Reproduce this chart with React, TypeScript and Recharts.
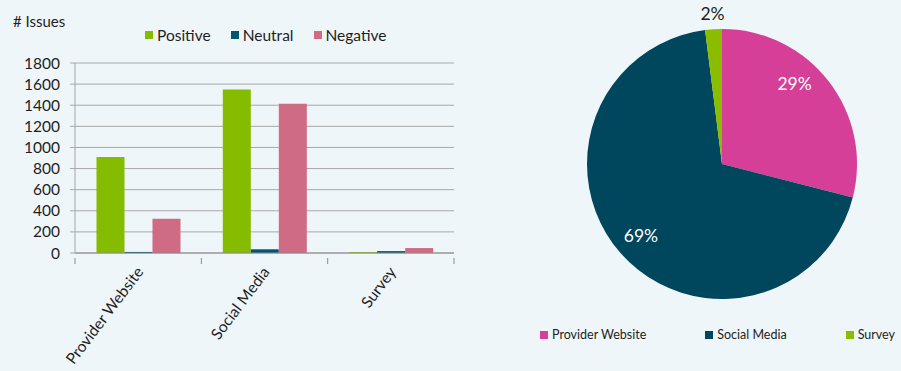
import { BarChart, Bar, XAxis, YAxis, CartesianGrid, PieChart, Pie, Cell } from 'recharts';

const categories = ['Provider Website', 'Social Media', 'Survey'];
const positiveValues = [910, 1550, 8];
const neutralValues = [10, 35, 18];
const negativeValues = [325, 1415, 47];
const yTicks = [0, 200, 400, 600, 800, 1000, 1200, 1400, 1600, 1800];

const sourceNames = ['Provider Website', 'Social Media', 'Survey'];
const sourceShares = [29, 69, 2];

const BG = '#eef6f9';
const FONT = 'Lato, "Open Sans", sans-serif';
const TEXT = '#1e1e1e';
const GREEN = '#86bc00';
const TEAL = '#00566f';
const ROSE = '#d06b84';
const PIE_COLORS = ['#d63f97', '#00465c', '#8abd00'];

const barData = categories.map((name, i) => ({
  name,
  positive: positiveValues[i],
  neutral: neutralValues[i],
  negative: negativeValues[i],
}));

const pieData = sourceNames.map((name, i) => ({ name, value: sourceShares[i] }));

const BAR_W = 470;
const PLOT_LEFT = 75;
const PLOT_RIGHT = 16;
const BAND = (BAR_W - PLOT_LEFT - PLOT_RIGHT) / categories.length;

const CategoryTick = (props: any) => {
  const { x, y, payload, index } = props;
  const left = x - BAND / 2;
  return (
    <g>
      <line x1={left} y1={y - 3} x2={left} y2={y + 3} stroke="#8c8c8c" />
      {index === categories.length - 1 && (
        <line x1={left + BAND} y1={y - 3} x2={left + BAND} y2={y + 3} stroke="#8c8c8c" />
      )}
      <text
        x={x + 6}
        y={y + 11}
        textAnchor="end"
        transform={`rotate(-53, ${x + 6}, ${y + 11})`}
        fontSize={15.5}
        fontFamily={FONT}
        fill={TEXT}
      >
        {payload.value}
      </text>
    </g>
  );
};

// Excel "best fit" puts the big labels a bit off the mid angle, so nudge them
const renderPieLabel = ({ cx, cy, midAngle, outerRadius, percent, index }: any) => {
  const RADIAN = Math.PI / 180;
  const small = percent < 0.05;
  const r = small ? outerRadius + 16 : outerRadius * 0.8;
  const angle = index === 0 ? midAngle + 10 : midAngle;
  const x = cx + r * Math.cos(-angle * RADIAN);
  const y = cy + r * Math.sin(-angle * RADIAN);
  return (
    <text
      x={x}
      y={y}
      fill={small ? TEXT : '#ffffff'}
      textAnchor="middle"
      dominantBaseline="central"
      fontSize={17.5}
      fontFamily={FONT}
    >
      {`${(percent * 100).toFixed(0)}%`}
    </text>
  );
};

const Swatch = ({ color }: { color: string }) => (
  <span style={{ display: 'inline-block', width: 8, height: 8, background: color, marginRight: 4 }} />
);

export default function App() {
  return (
    <div
      style={{
        position: 'fixed',
        left: 0,
        top: 0,
        width: 901,
        height: 371,
        background: BG,
        fontFamily: FONT,
        color: TEXT,
      }}
    >
      <div style={{ position: 'absolute', left: 13, top: 12, fontSize: 15 }}># Issues</div>
      <div style={{ position: 'absolute', left: 145, top: 26, fontSize: 15.5, display: 'flex', gap: 20 }}>
        <span style={{ display: 'flex', alignItems: 'center' }}>
          <Swatch color={GREEN} />
          Positive
        </span>
        <span style={{ display: 'flex', alignItems: 'center' }}>
          <Swatch color={TEAL} />
          Neutral
        </span>
        <span style={{ display: 'flex', alignItems: 'center' }}>
          <Swatch color={ROSE} />
          Negative
        </span>
      </div>

      <div style={{ position: 'absolute', left: 0, top: 0 }}>
        <BarChart
          width={BAR_W}
          height={371}
          data={barData}
          margin={{ top: 63, right: PLOT_RIGHT, bottom: 0, left: 0 }}
          barCategoryGap="17%"
          barGap={0}
        >
          <CartesianGrid vertical={false} stroke="#a8a8a8" />
          <XAxis
            dataKey="name"
            height={118}
            axisLine={{ stroke: '#8c8c8c' }}
            tickLine={false}
            tick={<CategoryTick />}
            interval={0}
          />
          <YAxis
            width={PLOT_LEFT}
            domain={[0, 1800]}
            ticks={yTicks}
            interval={0}
            axisLine={{ stroke: '#a8a8a8' }}
            tickLine={{ stroke: '#a8a8a8' }}
            tickSize={5}
            tickMargin={10}
            tick={{ fontSize: 15.5, fill: TEXT, fontFamily: FONT }}
          />
          <Bar dataKey="positive" fill={GREEN} isAnimationActive={false} />
          <Bar dataKey="neutral" fill={TEAL} isAnimationActive={false} />
          <Bar dataKey="negative" fill={ROSE} isAnimationActive={false} />
        </BarChart>
      </div>

      <div style={{ position: 'absolute', left: 470, top: 0 }}>
        <PieChart width={431} height={371} margin={{ top: 0, right: 0, bottom: 0, left: 0 }}>
          <Pie
            data={pieData}
            dataKey="value"
            cx={252}
            cy={164}
            outerRadius={135}
            startAngle={90}
            endAngle={-270}
            stroke="none"
            labelLine={false}
            label={renderPieLabel}
            isAnimationActive={false}
          >
            {pieData.map((entry, idx) => (
              <Cell key={entry.name} fill={PIE_COLORS[idx]} />
            ))}
          </Pie>
        </PieChart>
      </div>

      <div
        style={{
          position: 'absolute',
          left: 540,
          top: 327,
          fontSize: 12.5,
          display: 'flex',
          gap: 59,
          whiteSpace: 'nowrap',
        }}
      >
        {pieData.map((entry, idx) => (
          <span key={entry.name} style={{ display: 'flex', alignItems: 'center' }}>
            <Swatch color={PIE_COLORS[idx]} />
            {entry.name}
          </span>
        ))}
      </div>
    </div>
  );
}
